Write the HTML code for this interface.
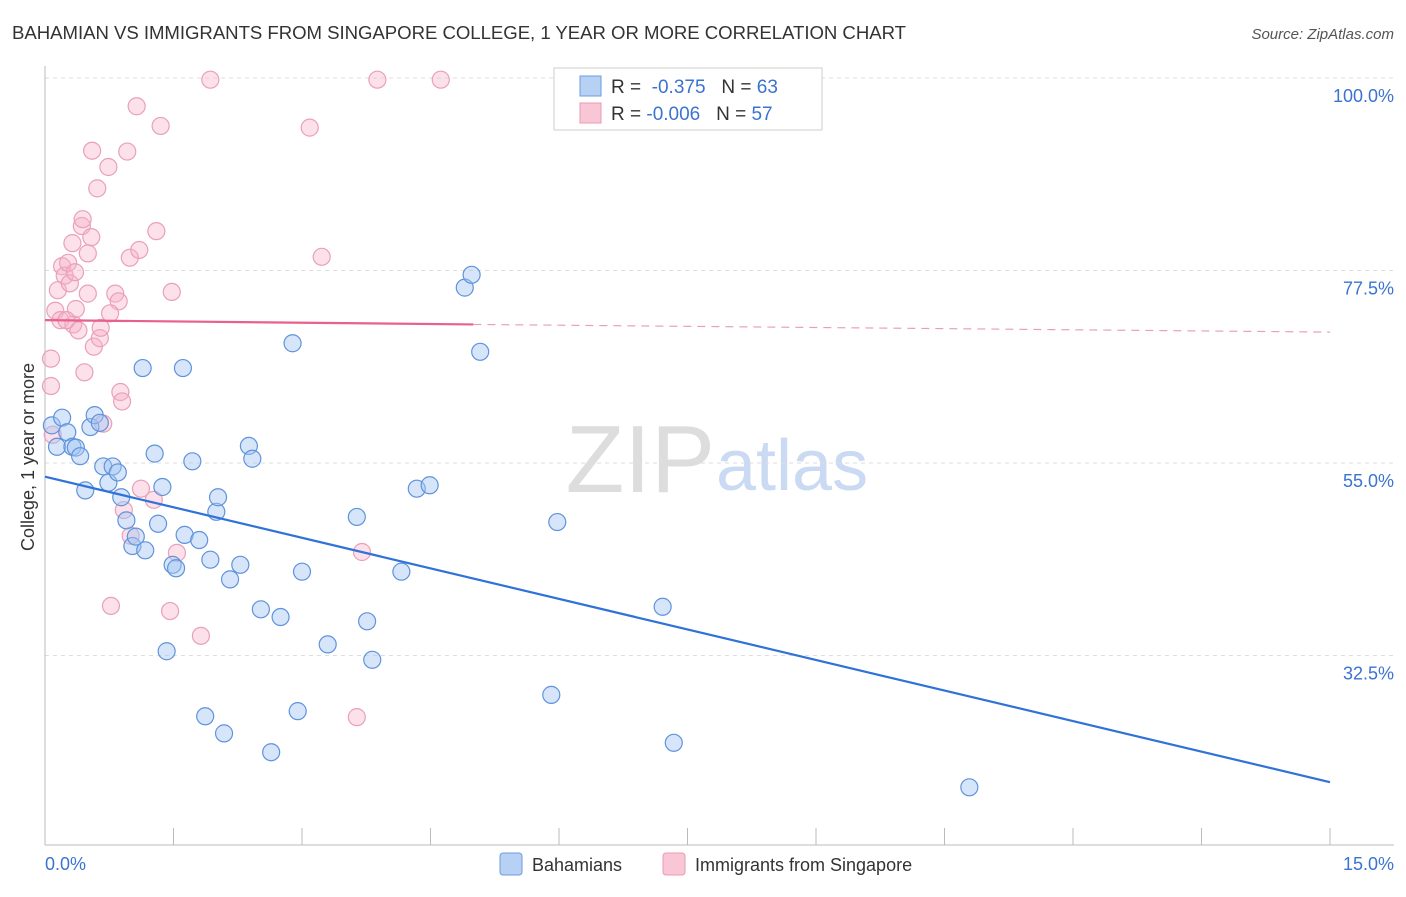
<!DOCTYPE html>
<html><head><meta charset="utf-8"><style>
body{margin:0;background:#fff;font-family:"Liberation Sans",sans-serif;}
svg text{font-family:"Liberation Sans",sans-serif;}
</style></head><body>
<svg id="chart" width="1406" height="892">
<text x="12" y="39" font-size="18.6" fill="#333" textLength="894">BAHAMIAN VS IMMIGRANTS FROM SINGAPORE COLLEGE, 1 YEAR OR MORE CORRELATION CHART</text>
<text x="1394" y="39" font-size="15" fill="#555" text-anchor="end" font-style="italic">Source: ZipAtlas.com</text>
<text x="715" y="492" font-size="96" fill="#ddd" text-anchor="end" font-family="Liberation Serif">ZIP</text>
<text x="716" y="490" font-size="72" fill="#c9daf2">atlas</text>
<g id="grid"></g><g id="axes"></g><g id="pts"></g><g id="lines"></g>
<text x="34" y="457" font-size="18" fill="#333" text-anchor="middle" transform="rotate(-90 34 457)">College, 1 year or more</text>
<text x="45" y="870" font-size="18" fill="#3b73d1">0.0%</text>
<text x="1394" y="870" font-size="18" fill="#3b73d1" text-anchor="end">15.0%</text>
<g>
<rect x="500" y="853" width="22" height="22" rx="3" fill="#b7d1f5" stroke="#6d9be0"/>
<text x="532" y="871" font-size="18" fill="#333">Bahamians</text>
<rect x="663" y="853" width="22" height="22" rx="3" fill="#f9c6d6" stroke="#e89ab4"/>
<text x="695" y="871" font-size="18" fill="#333">Immigrants from Singapore</text>
</g>
<g>
<rect x="554" y="68" width="268" height="62" fill="#fff" stroke="#ccc"/>
<rect x="580" y="76" width="21" height="20" fill="#b7d1f5" stroke="#6d9be0"/>
<text x="611" y="93" font-size="19" fill="#333">R = <tspan fill="#3b73d1">&#160;-0.375</tspan>&#160;&#160;&#160;N = <tspan fill="#3b73d1">63</tspan></text>
<rect x="580" y="103" width="21" height="20" fill="#f9c6d6" stroke="#e89ab4"/>
<text x="611" y="120" font-size="19" fill="#333">R = <tspan fill="#3b73d1">-0.006</tspan>&#160;&#160;&#160;N = <tspan fill="#3b73d1">57</tspan></text>
</g>
</svg>
<script>
const yTicks=[100,77.5,55,32.5];
const yTickLabels=["100.0%","77.5%","55.0%","32.5%"];
const xTicks=[0,1.5,3,4.5,6,7.5,9,10.5,12,13.5,15];
const blueX=[0.08,0.14,0.20,0.26,0.32,0.36,0.41,0.47,0.53,0.58,0.64,0.68,0.74,0.79,0.85,0.89,0.95,1.02,1.06,1.17,1.14,1.28,1.32,1.37,1.42,1.49,1.53,1.61,1.63,1.72,1.80,1.87,1.93,2.00,2.02,2.09,2.16,2.28,2.38,2.42,2.52,2.64,2.75,2.89,2.95,3.00,3.30,3.64,3.76,3.82,4.16,4.34,4.49,4.90,4.98,5.08,5.91,5.98,7.21,7.34,10.79];
const blueY=[59.4,56.9,60.3,58.6,56.9,56.8,55.8,51.8,59.2,60.6,59.7,54.6,52.7,54.6,53.9,51.0,48.3,45.3,46.4,44.8,66.1,56.1,47.9,52.2,33.0,43.1,42.7,66.1,46.6,55.2,46.0,25.4,43.7,49.3,51.0,23.4,41.4,43.1,57.0,55.5,37.9,21.2,37.0,69.0,26.0,42.3,33.8,48.7,36.5,32.0,42.3,52.0,52.4,75.5,77.0,68.0,27.9,48.1,38.2,22.3,17.1];
const pinkX=[0.07,0.07,0.09,0.12,0.15,0.18,0.20,0.23,0.27,0.29,0.32,0.33,0.35,0.36,0.39,0.43,0.44,0.46,0.50,0.50,0.54,0.55,0.57,0.61,0.64,0.65,0.68,0.74,0.77,0.82,0.86,0.88,0.90,0.92,0.96,0.99,1.00,1.07,1.10,1.12,1.27,1.30,1.35,1.46,1.48,1.54,1.82,1.93,3.09,3.23,3.64,3.70,3.88,4.62,0.76,0.25];
const pinkY=[64.0,67.2,58.3,72.8,75.2,71.7,78.0,76.9,78.4,76.0,80.7,71.2,77.3,73.0,70.5,82.7,83.5,65.6,79.5,74.8,81.4,91.5,68.6,87.1,69.6,70.8,59.6,89.6,38.3,74.8,73.9,63.3,62.2,49.5,91.4,79.0,46.5,96.7,79.9,52.0,50.7,82.1,94.4,37.7,75.0,44.5,34.8,99.8,94.2,79.1,25.3,44.6,99.8,99.8,72.5,71.7];
const blueTrend=[[0,53.4],[15,17.7]];
const pinkTrend=[[0,71.7],[5.0,71.2],[15,70.3]];
const NS="http://www.w3.org/2000/svg";
const sx=v=>45+v*(1285/15);
const sy=v=>78+(100-v)*8.556;
function mk(tag,attrs,parent){const e=document.createElementNS(NS,tag);for(const k in attrs)e.setAttribute(k,attrs[k]);document.getElementById(parent).appendChild(e);return e;}
yTicks.forEach((t,i)=>{
 const g=mk('line',{x1:45,x2:1394,y1:sy(t),y2:sy(t),stroke:'#ddd','stroke-dasharray':'4,4'},'grid');
 
 
 const tx=mk('text',{x:1394,y:sy(t)+24,'font-size':18,fill:'#3b73d1','text-anchor':'end'},'grid');
 tx.textContent=yTickLabels[i];
 
 
});
const ya=mk('line',{x1:45,x2:45,y1:66,y2:845,stroke:'#bbb'},'axes');


const xa=mk('line',{x1:45,x2:1394,y1:845,y2:845,stroke:'#bbb'},'axes');


xTicks.forEach(t=>{
 const l=mk('line',{x1:sx(t),x2:sx(t),y1:828,y2:845,stroke:'#bbb'},'axes');
 
 
});
pinkX.forEach((x,i)=>{
 const c=mk('circle',{cx:sx(x),cy:sy(pinkY[i]),r:8.5,fill:'rgba(247,178,202,0.4)',stroke:'#e9a0ba','stroke-width':1.2},'pts');
 
 
});
blueX.forEach((x,i)=>{
 const c=mk('circle',{cx:sx(x),cy:sy(blueY[i]),r:8.5,fill:'rgba(165,198,242,0.45)',stroke:'#5f93dc','stroke-width':1.2},'pts');
 
 
});
const bl=mk('line',{x1:sx(blueTrend[0][0]),y1:sy(blueTrend[0][1]),x2:sx(blueTrend[1][0]),y2:sy(blueTrend[1][1]),stroke:'#2f72d8','stroke-width':2.2},'lines');


const pl=mk('line',{x1:sx(pinkTrend[0][0]),y1:sy(pinkTrend[0][1]),x2:sx(pinkTrend[1][0]),y2:sy(pinkTrend[1][1]),stroke:'#e8608c','stroke-width':2.2},'lines');


const pd=mk('line',{x1:sx(pinkTrend[1][0]),y1:sy(pinkTrend[1][1]),x2:sx(pinkTrend[2][0]),y2:sy(pinkTrend[2][1]),stroke:'#e8a0b8','stroke-width':1.2,'stroke-dasharray':'8,6'},'lines');


</script>
</body></html>
